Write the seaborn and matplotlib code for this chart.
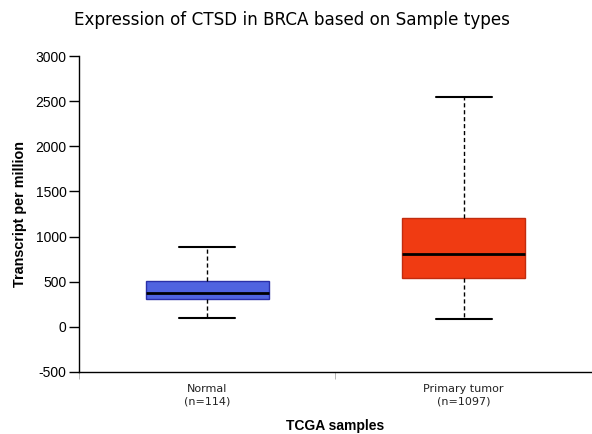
import pandas as pd
import matplotlib.pyplot as plt
import seaborn as sns

# Valores (min, Q1, mediana, Q3, max)
grupos = ['Normal\n(n=114)', 'Primary tumor\n(n=1097)']
normal_stats = [100, 310, 380, 510, 890]
tumor_stats = [85, 540, 805, 1210, 2550]
cores = ['#4f63e0', '#f03b12']
bordas = ['#2a30a8', '#c22c0e']

# Monta tabela longa: com 5 pontos, quartis e extremos caem nos valores acima
df = pd.DataFrame({
    'grupo': [grupos[0]] * 5 + [grupos[1]] * 5,
    'tpm': normal_stats + tumor_stats,
})

sns.set_style('white')
plt.rcParams['text.color'] = 'black'
plt.rcParams['axes.labelcolor'] = 'black'
plt.rcParams['xtick.color'] = 'black'
plt.rcParams['ytick.color'] = 'black'

fig = plt.figure(figsize=(5.92, 4.34), dpi=100)
ax = fig.add_axes([0.1334, 0.1429, 0.8666, 0.728])

sns.boxplot(x='grupo', y='tpm', data=df, hue='grupo', palette=cores,
            order=grupos, whis=(0, 100), width=0.48, legend=False,
            showfliers=False, saturation=1, ax=ax,
            medianprops=dict(color='black', linewidth=2),
            whiskerprops=dict(color='black', linestyle=(0, (3, 2)), linewidth=1),
            capprops=dict(color='black', linewidth=1.5))

# bordas das caixas
for patch, cor in zip(ax.patches, bordas):
    patch.set_edgecolor(cor)
    patch.set_linewidth(1)

# caps mais curtos
for line in ax.lines:
    x = line.get_xdata()
    y = line.get_ydata()
    if len(x) == 2 and y[0] == y[1] and abs(x[1] - x[0]) < 0.4:
        xc = (x[0] + x[1]) / 2
        line.set_xdata([xc - 0.11, xc + 0.11])

ax.set_xlim(-0.5, 1.5)
ax.set_ylim(-500, 3000)
ax.set_yticks(range(-500, 3001, 500))
ax.set_yticklabels([str(v) for v in range(-500, 3001, 500)],
                   fontfamily='Liberation Sans', fontsize=10)
ax.tick_params(axis='y', direction='out', length=7, width=1, color='black', left=True, pad=2)

ax.set_xticks([0, 1])
ax.set_xticklabels(grupos, fontfamily='DejaVu Sans', fontsize=8, color='#222222')
ax.tick_params(axis='x', length=0, pad=9)
ax.set_xticks([-0.5, 0.5, 1.5], minor=True)
ax.tick_params(axis='x', which='minor', direction='out', length=5, color='#aaaaaa', bottom=True)

for s in ['top', 'right']:
    ax.spines[s].set_visible(False)
for s in ['left', 'bottom']:
    ax.spines[s].set_color('black')
    ax.spines[s].set_linewidth(1)

ax.set_ylabel('Transcript per million', fontfamily='Liberation Sans',
              fontweight='bold', fontsize=10.4, labelpad=6)
ax.set_xlabel('TCGA samples', fontfamily='Liberation Sans',
              fontweight='bold', fontsize=10, labelpad=9)
fig.text(0.493, 0.953, 'Expression of CTSD in BRCA based on Sample types',
         ha='center', va='center', fontfamily='DejaVu Sans', fontsize=12.1)

fig.savefig('out.png', dpi=100)
